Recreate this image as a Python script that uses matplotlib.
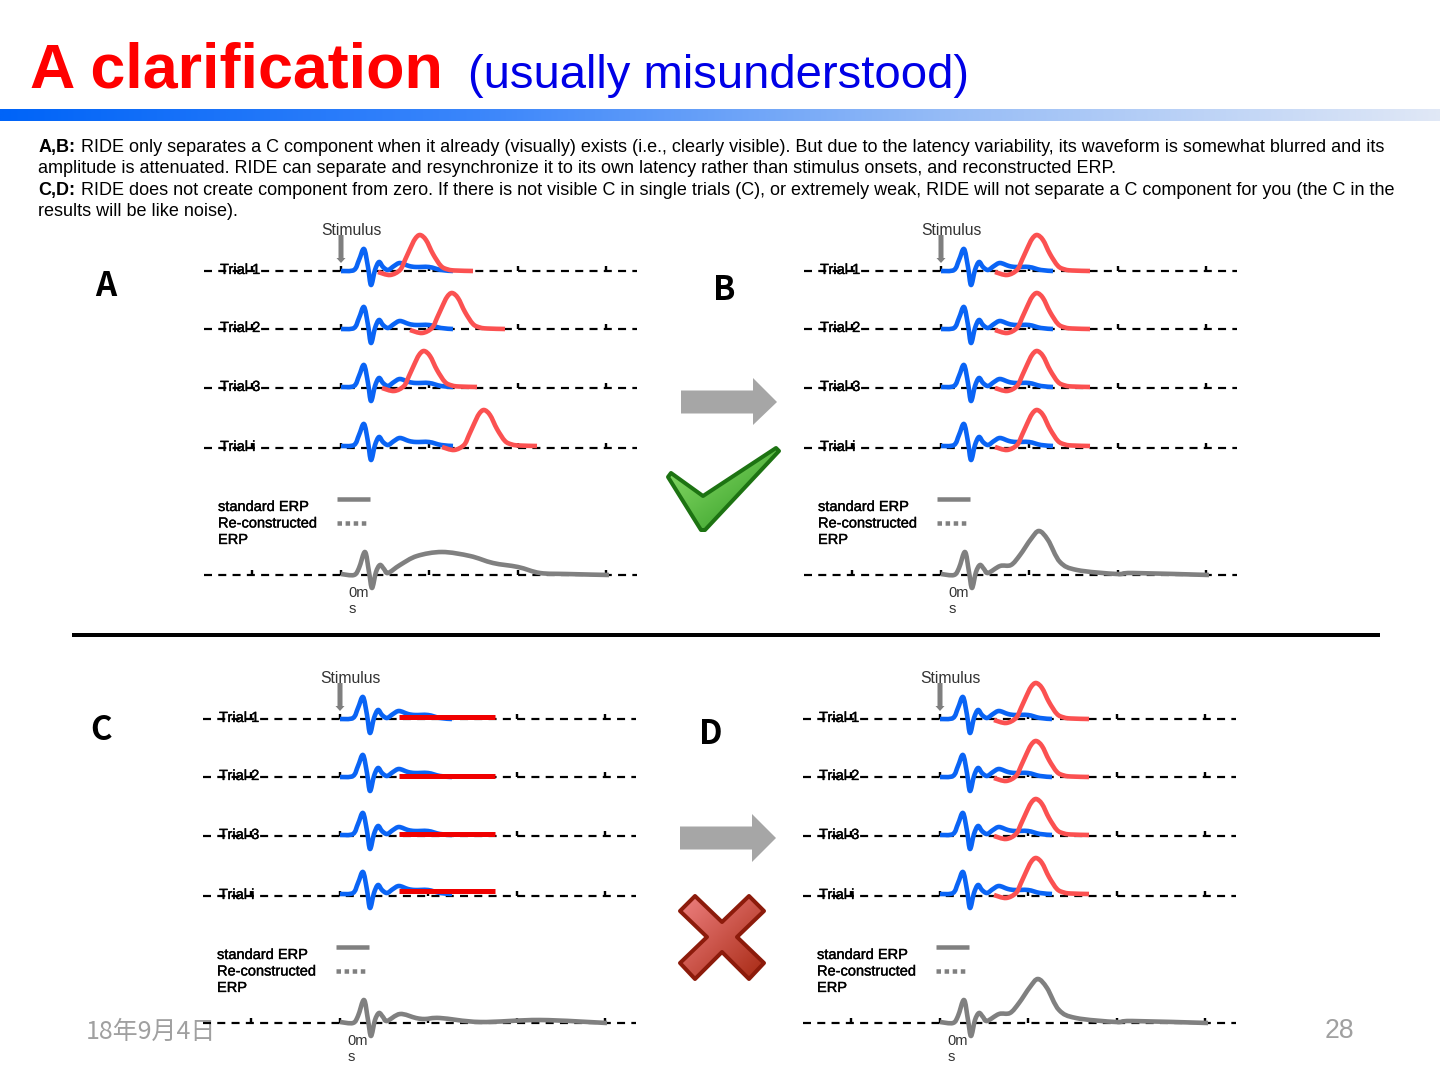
import numpy as np
import matplotlib
matplotlib.use("Agg")
import matplotlib.pyplot as plt
from matplotlib.path import Path
from matplotlib.patches import PathPatch, Polygon
from matplotlib.colors import LinearSegmentedColormap
import matplotlib.patheffects as pe

# ---------- values (local units: 1 unit = 1 px, time from stimulus, amplitude up) ----------
BLUE_T = [0, 13, 18, 23, 27, 30, 34, 38, 42, 47, 53, 59, 68, 75, 88, 100, 112]
BLUE_A = [0, 1, 11, 22, 4, -14, 1, 9, 4, 1, 5, 8, 5, 4, 4, 1, 0]
RED_T = [0, 12, 22, 27, 32, 37, 42, 48, 55, 63, 70, 77, 95]
RED_A = [-1, -4, 1, 11, 22, 32, 36, 31, 17, 5, 1.5, 0.5, 0]
ERP_A_T = [0, 13, 18, 24, 28, 31, 35, 39, 43, 47, 59, 76, 101, 129, 152, 177, 199, 226, 268]
ERP_A_V = [1, 0, 7, 23, 3, -13, 3, 10, 6, 2, 10, 19, 23, 19, 12, 8, 2, 1, 0]
ERP_B_T = [0, 13, 18, 24, 28, 31, 35, 39, 43, 47, 59, 70, 79, 90, 98, 107, 119, 136, 176, 192, 268]
ERP_B_V = [1, 0, 7, 23, 3, -13, 3, 10, 6, 2, 9, 10, 20, 36, 44, 35, 13, 5, 1, 2, 0]
ERP_C_T = [0, 13, 18, 24, 28, 31, 35, 39, 43, 47, 60, 76, 85, 100, 140, 200, 267]
ERP_C_V = [1, 0, 7, 23, 3, -13, 3, 10, 6, 2, 9, 5, 4, 5, 1, 3, 0]
RED_STARTS_A = [37, 69, 41, 101]
RED_STARTS_B = [54, 54, 54, 54]
FLAT_RED_Y = [717, 776, 834, 891]
TRIAL_NAMES = ["Trial 1", "Trial 2", "Trial 3", "Trial i"]
TRIAL_Y = [271, 329, 387, 446]
DASH_Y = [271, 329, 388, 448, 575]
TICK_DX = [-89, 0, 88, 177, 265]
LEGEND_LINES = ["standard ERP", "Re-constructed", "ERP"]
TITLE = "A clarification"
SUBTITLE = "(usually misunderstood)"
BODY = [
    ("A,B:", " RIDE only separates a C component when it already (visually) exists (i.e., clearly visible). But due to the latency variability, its waveform is somewhat blurred and its"),
    ("", "amplitude is attenuated. RIDE can separate and resynchronize it to its own latency rather than stimulus onsets, and reconstructed ERP."),
    ("C,D:", " RIDE does not create component from zero. If there is not visible C in single trials (C), or extremely weak, RIDE will not separate a C component for you (the C in the"),
    ("", "results will be like noise)."),
]
DATE_TEXT = "18年9月4日"
PAGE_TEXT = "28"

PX = 0.72  # pt per px at dpi 100
fig = plt.figure(figsize=(14.4, 10.8), dpi=100, facecolor="white")
ax = fig.add_axes([0, 0, 1, 1])
ax.set_xlim(0, 1440)
ax.set_ylim(1080, 0)
ax.axis("off")
SANS = "Liberation Sans"
CJK = ["Noto Sans CJK JP", "DejaVu Sans"]


def smooth(x, y, **kw):
    x, y = np.asarray(x, float), np.asarray(y, float)
    pts = np.column_stack([x, y])
    verts = [pts[0]]
    codes = [Path.MOVETO]
    n = len(pts)
    for i in range(n - 1):
        p0, p1, p2, p3 = pts[max(i - 1, 0)], pts[i], pts[i + 1], pts[min(i + 2, n - 1)]
        verts += [p1 + (p2 - p0) / 6, p2 - (p3 - p1) / 6, p2]
        codes += [Path.CURVE4] * 3
    ax.add_patch(PathPatch(Path(verts, codes), fill=False, capstyle="butt", joinstyle="round", **kw))


def txt(x, y, s, size, color="black", family=SANS, weight="normal", stroke=0, z=3, **kw):
    t = ax.text(x, y, s, fontsize=size * PX, color=color, family=family, weight=weight,
                va="baseline", ha="left", zorder=z, **kw)
    if stroke:
        t.set_path_effects([pe.withStroke(linewidth=stroke, foreground=color)])
    return t


def panel(x0, dy, starts=None, flat=False, erp=(ERP_A_T, ERP_A_V)):
    # stimulus
    txt(x0 - 19.5, 235 + dy, "Stimulus", 15.8, color="#333333")
    ax.add_patch(Polygon([(x0 - 2.5, 235 + dy), (x0 + 2.5, 235 + dy), (x0 + 2.5, 258 + dy), (x0 + 4.5, 258 + dy),
                          (x0, 263 + dy), (x0 - 4.5, 258 + dy), (x0 - 2.5, 258 + dy)],
                         closed=True, fc="#7f7f7f", ec="none", zorder=6))
    for y in DASH_Y:
        yy = y + dy
        ax.plot([x0 - 137, x0 + 296], [yy, yy], color="black", lw=2.2 * PX, dashes=(3.64, 2.85), zorder=4,
                dash_capstyle="butt")
        for d in TICK_DX:
            ax.plot([x0 + d, x0 + d], [yy - 5, yy], color="black", lw=2.4 * PX, zorder=4, solid_capstyle="butt")
    for name, y in zip(TRIAL_NAMES, DASH_Y):
        txt(x0 - 121, y + 3 + dy, name, 14.7, stroke=0.25)
    t = np.asarray(BLUE_T, float)
    a = np.asarray(BLUE_A, float)
    for y in TRIAL_Y:
        smooth(x0 + t, y + dy - a, color="#0a64f5", lw=4.6 * PX, zorder=5)
    if starts is not None:
        rt, ra = np.asarray(RED_T, float), np.asarray(RED_A, float)
        for s, y in zip(starts, TRIAL_Y):
            smooth(x0 + s + rt, y + dy - ra, color="#fb5151", lw=4.6 * PX, zorder=6)
    if flat:
        for y in FLAT_RED_Y:
            ax.plot([399, 495], [y, y], color="#f00000", lw=5 * PX, zorder=6, solid_capstyle="butt")
    # legend
    for j, line in enumerate(LEGEND_LINES):
        txt(x0 - 123, 511 + 16.5 * j + dy, line, 14.6, stroke=0.25)
    ax.plot([x0 - 4, x0 + 29], [499 + dy, 499 + dy], color="#808080", lw=4.5 * PX, zorder=5, solid_capstyle="butt")
    ax.plot([x0 - 4, x0 + 28], [523 + dy, 523 + dy], color="#808080", lw=4.5 * PX, zorder=5,
            dashes=(1, 0.8), dash_capstyle="butt")
    # ERP
    smooth(x0 + np.asarray(erp[0], float), 575 + dy - np.asarray(erp[1], float), color="#808080", lw=4.6 * PX, zorder=6)
    txt(x0 + 7.5, 597 + dy, "0m", 14.6, color="#333333")
    txt(x0 + 7.5, 613 + dy, "s", 14.6, color="#333333")


def gradient_poly(verts, c0, c1, ec, angle_xy=(1, 1), lw=4):
    verts = np.asarray(verts, float)
    xmin, ymin = verts.min(0)
    xmax, ymax = verts.max(0)
    gx, gy = np.meshgrid(np.linspace(0, 1, 64), np.linspace(0, 1, 64))
    g = (gx * angle_xy[0] + gy * angle_xy[1]) / (angle_xy[0] + angle_xy[1])
    cmap = LinearSegmentedColormap.from_list("g", [c0, c1])
    im = ax.imshow(g, extent=(xmin, xmax, ymax, ymin), cmap=cmap, aspect="auto", zorder=7, origin="upper")
    poly = Polygon(verts, closed=True, fc="none", ec=ec, lw=lw * PX, joinstyle="round", zorder=8)
    ax.add_patch(poly)
    im.set_clip_path(poly)


# ---------- header ----------
txt(30, 88, TITLE, 62.7, color="#ff0000", weight="bold")
txt(468, 88, SUBTITLE, 47.3, color="#0000e6")
grad = np.linspace(0, 1, 512)[None, :]
cm = LinearSegmentedColormap.from_list("bar", ["#0064f8", "#3b86fb", "#98bdf6", "#e0e8f6"])
ax.imshow(grad, extent=(0, 1440, 121, 109), cmap=cm, aspect="auto", zorder=1)
ax.set_xlim(0, 1440)
ax.set_ylim(1080, 0)

fig.canvas.draw()
rend = fig.canvas.get_renderer()
for (b, r), y in zip(BODY, [151.7, 173, 194.7, 215.7]):
    x = 38.5
    if b:
        t = txt(x, y, b, 18.03, weight="bold")
        x = t.get_window_extent(rend).x1
    txt(x, y, r, 18.03)

# ---------- panels ----------
panel(341, 0, starts=RED_STARTS_A, erp=(ERP_A_T, ERP_A_V))
panel(941, 0, starts=RED_STARTS_B, erp=(ERP_B_T, ERP_B_V))
panel(340, 448, flat=True, erp=(ERP_C_T, ERP_C_V))
panel(940, 448, starts=RED_STARTS_B, erp=(ERP_B_T, ERP_B_V))

for s, x, y in [("A", 95, 296), ("B", 713, 300), ("C", 90, 740), ("D", 699, 744)]:
    txt(x, y, s, 33, family=CJK, weight="bold")

ax.plot([72, 1380], [634.5, 634.5], color="black", lw=4 * PX, solid_capstyle="butt", zorder=3)

# ---------- arrows ----------
for xs, y, top, bot in [(681, 402, 378, 425), (680, 838, 814, 862)]:
    ax.add_patch(Polygon([(xs, y - 11.5), (xs + 72, y - 11.5), (xs + 72, top), (xs + 96, y),
                          (xs + 72, bot), (xs + 72, y + 11.5), (xs, y + 11.5)],
                         closed=True, fc="#a6a6a6", ec="none", zorder=3))

# ---------- check and cross ----------
gradient_poly([(671, 473), (703, 496), (776, 448), (779, 451), (705, 530), (701, 530), (668, 477)],
              "#8fe06d", "#2f9a22", "#1d7312")
gradient_poly([(695, 896), (722, 922), (749, 896), (764, 911), (737, 937), (764, 963), (749, 979),
               (722, 952), (695, 979), (680, 963), (707, 937), (680, 911)],
              "#ee8080", "#a82a14", "#8c1b0b")

# ---------- footer ----------
txt(86, 1039, DATE_TEXT, 25, color="#a0a0a0", family=["Noto Sans CJK SC", "DejaVu Sans"], z=2)
txt(1325, 1038, PAGE_TEXT, 26.5, color="#a0a0a0", family=SANS, z=2)

ax.set_xlim(0, 1440)
ax.set_ylim(1080, 0)
fig.savefig("out.png", dpi=100, facecolor="white")
